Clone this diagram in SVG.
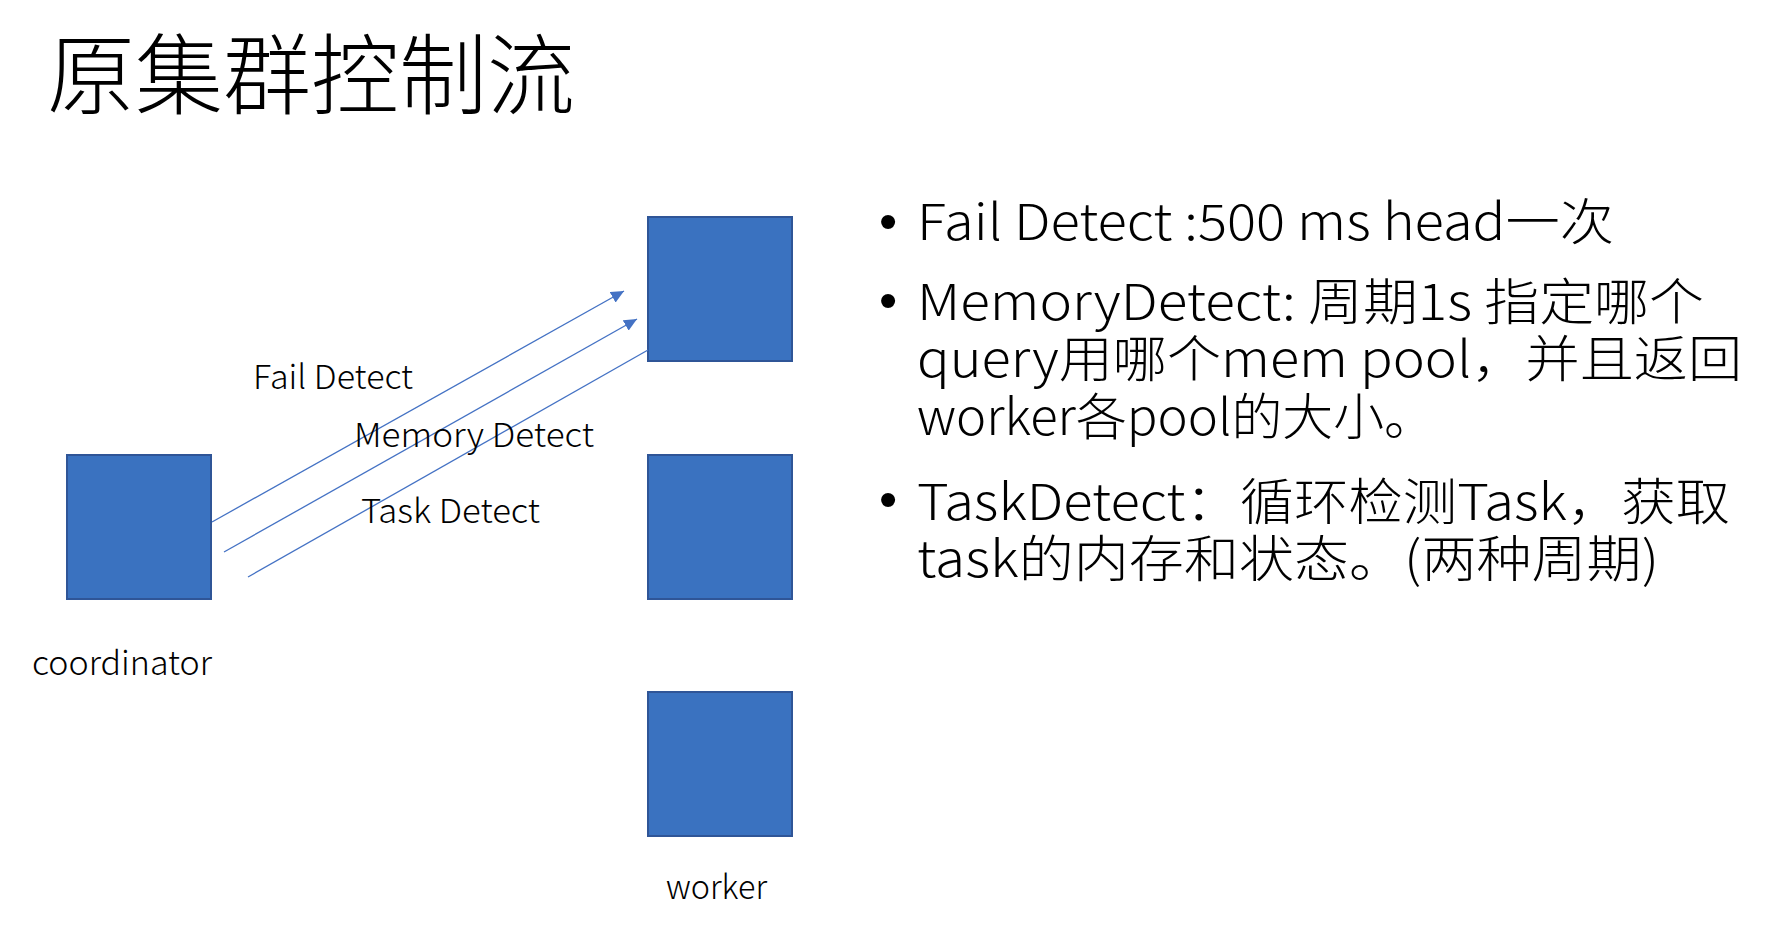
<svg xmlns="http://www.w3.org/2000/svg" width="1785" height="950" viewBox="0 0 1785 950">
  <style>
    .box { fill: #3A72C0; stroke: #2F5597; stroke-width: 2; }
    .lbl { font-family: "Noto Sans CJK SC", "Noto Sans", sans-serif; font-size: 33px; font-weight: 300; fill: #000; }
    .body { font-family: "Noto Sans CJK SC", "Noto Sans", sans-serif; font-size: 50px; font-weight: 300; fill: #000; }
    .bul { font-family: "Liberation Sans", sans-serif; font-size: 52px; fill: #000; }
    .title { font-family: "Noto Sans CJK SC", sans-serif; font-size: 88px; font-weight: 300; fill: #000; }
    .conn { stroke: #4472C4; stroke-width: 1.3; fill: none; }
  </style>
  <defs>
    <marker id="arr" markerUnits="userSpaceOnUse" markerWidth="14" markerHeight="12" refX="13" refY="6" orient="auto">
      <path d="M0,0 L13,6 L0,12 Z" fill="#4472C4"/>
    </marker>
  </defs>
  <rect width="1785" height="950" fill="#fff"/>

  <text id="title" class="title" x="47" y="107">原集群控制流</text>

  <g id="coordinator">
    <rect class="box" x="67" y="455" width="144" height="144"/>
    <text class="lbl" x="32" y="675" textLength="180" lengthAdjust="spacingAndGlyphs">coordinator</text>
  </g>
  <g id="worker1">
    <rect class="box" x="648" y="217" width="144" height="144"/>
  </g>
  <g id="worker2">
    <rect class="box" x="648" y="455" width="144" height="144"/>
  </g>
  <g id="worker3">
    <rect class="box" x="648" y="692" width="144" height="144"/>
    <text class="lbl" x="666" y="899" textLength="101" lengthAdjust="spacingAndGlyphs">worker</text>
  </g>

  <g id="connectors">
    <line class="conn" x1="212" y1="522" x2="624" y2="291" marker-end="url(#arr)"/>
    <line class="conn" x1="224" y1="552" x2="637" y2="319" marker-end="url(#arr)"/>
    <line class="conn" x1="248" y1="577" x2="648" y2="350"/>
    <text class="lbl" x="253" y="389" textLength="160" lengthAdjust="spacingAndGlyphs">Fail Detect</text>
    <text class="lbl" x="354" y="447" textLength="240" lengthAdjust="spacingAndGlyphs">Memory Detect</text>
    <text class="lbl" x="361" y="523" textLength="179" lengthAdjust="spacingAndGlyphs">Task Detect</text>
  </g>

  <g id="bullets">
    <text class="bul" x="879" y="239">•</text>
    <text class="bul" x="879" y="318">•</text>
    <text class="bul" x="879" y="517">•</text>
    <text class="body" x="917" y="240" textLength="697" lengthAdjust="spacingAndGlyphs">Fail Detect :500 ms head一次</text>
    <text class="body" x="917" y="320" textLength="787" lengthAdjust="spacingAndGlyphs">MemoryDetect: 周期1s 指定哪个</text>
    <text class="body" x="917" y="377" textLength="825" lengthAdjust="spacingAndGlyphs">query用哪个mem pool，并且返回</text>
    <text class="body" x="917" y="435" textLength="518" lengthAdjust="spacingAndGlyphs">worker各pool的大小。</text>
    <text class="body" x="917" y="520" textLength="813" lengthAdjust="spacingAndGlyphs">TaskDetect：循环检测Task，获取</text>
    <text class="body" x="917" y="577" textLength="742" lengthAdjust="spacingAndGlyphs">task的内存和状态。(两种周期)</text>
  </g>
</svg>
